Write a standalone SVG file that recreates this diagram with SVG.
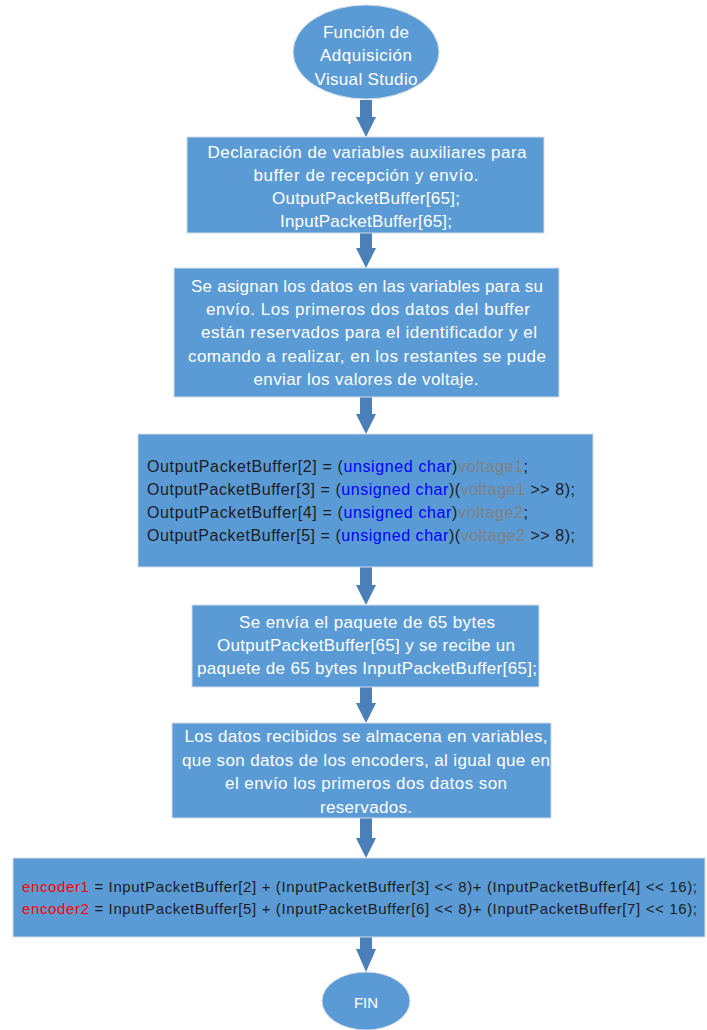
<svg xmlns="http://www.w3.org/2000/svg" width="707" height="1030" viewBox="0 0 707 1030">
<style>
.box{fill:#5B9BD5;stroke:#d3dde8;stroke-width:1}
.term{fill:#5B9BD5;stroke:#d3dde8;stroke-width:1}
.t{font-family:"Liberation Sans",Arial,sans-serif;font-size:17px;fill:#ffffff;text-anchor:middle}
.c{font-family:"Liberation Sans",Arial,sans-serif;font-size:16px;fill:#1c1c24}
.e{font-family:"Liberation Sans",Arial,sans-serif;font-size:15px;fill:#1c1c24}
.kw{fill:#0000FF}
.gr{fill:#808080}
.rd{fill:#FF0000}
.arrow{fill:#4a7fb8}
</style>
<rect width="707" height="1030" fill="#ffffff"/>
<g id="connectors">
<path class="arrow" d="M360,100 H372 V117 H376 L366,137 L356,117 H360 Z"/>
<path class="arrow" d="M360,233 H372 V248 H376 L366,268 L356,248 H360 Z"/>
<path class="arrow" d="M360,397 H372 V414 H376 L366,434 L356,414 H360 Z"/>
<path class="arrow" d="M360,567 H372 V585 H376 L366,605 L356,585 H360 Z"/>
<path class="arrow" d="M360,687 H372 V703 H376 L366,723 L356,703 H360 Z"/>
<path class="arrow" d="M360,818 H372 V838 H376 L366,858 L356,838 H360 Z"/>
<path class="arrow" d="M360,937 H372 V949 H376 L366,972 L356,949 H360 Z"/>
</g>
<g id="start">
<ellipse class="term" cx="366" cy="52" rx="73" ry="47"/>
<text class="t" x="366" y="38" textLength="86">Función de</text>
<text class="t" x="366" y="61" textLength="92">Adquisición</text>
<text class="t" x="366" y="85" textLength="103">Visual Studio</text>
</g>
<g id="declaracion">
<rect class="box" x="187" y="137" width="357" height="96"/>
<text class="t" x="367" y="158" textLength="319">Declaración de variables auxiliares para</text>
<text class="t" x="366" y="181" textLength="225">buffer de recepción y envío.</text>
<text class="t" x="366" y="204" textLength="188">OutputPacketBuffer[65];</text>
<text class="t" x="366" y="227" textLength="172">InputPacketBuffer[65];</text>
</g>
<g id="asignacion">
<rect class="box" x="174" y="268" width="385" height="129"/>
<text class="t" x="367" y="292" textLength="352">Se asignan los datos en las variables para su</text>
<text class="t" x="368" y="315" textLength="324">envío. Los primeros dos datos del buffer</text>
<text class="t" x="369" y="338" textLength="336">están reservados para el identificador y el</text>
<text class="t" x="367" y="362" textLength="358">comando a realizar, en los restantes se pude</text>
<text class="t" x="366" y="385" textLength="225">enviar los valores de voltaje.</text>
</g>
<g id="codigo-salida">
<rect class="box" x="138" y="434" width="455" height="133"/>
<text class="c" x="147" y="472" textLength="381">OutputPacketBuffer[2] = (<tspan class="kw">unsigned char</tspan>)<tspan class="gr">voltage1</tspan>;</text>
<text class="c" x="147" y="495" textLength="428">OutputPacketBuffer[3] = (<tspan class="kw">unsigned char</tspan>)(<tspan class="gr">voltage1</tspan> &gt;&gt; 8);</text>
<text class="c" x="147" y="518" textLength="381">OutputPacketBuffer[4] = (<tspan class="kw">unsigned char</tspan>)<tspan class="gr">voltage2</tspan>;</text>
<text class="c" x="147" y="541" textLength="428">OutputPacketBuffer[5] = (<tspan class="kw">unsigned char</tspan>)(<tspan class="gr">voltage2</tspan> &gt;&gt; 8);</text>
</g>
<g id="envio">
<rect class="box" x="192" y="605" width="347" height="82"/>
<text class="t" x="367" y="628" textLength="256">Se envía el paquete de 65 bytes</text>
<text class="t" x="366" y="651" textLength="298">OutputPacketBuffer[65] y se recibe un</text>
<text class="t" x="367" y="674" textLength="340">paquete de 65 bytes InputPacketBuffer[65];</text>
</g>
<g id="recepcion">
<rect class="box" x="172" y="723" width="379" height="95"/>
<text class="t" x="366" y="742" textLength="363">Los datos recibidos se almacena en variables,</text>
<text class="t" x="366" y="766" textLength="368">que son datos de los encoders, al igual que en</text>
<text class="t" x="366" y="789" textLength="282">el envío los primeros dos datos son</text>
<text class="t" x="366" y="813" textLength="92">reservados.</text>
</g>
<g id="codigo-encoders">
<rect class="box" x="13" y="858" width="692" height="79"/>
<text class="e" x="22" y="892" textLength="675"><tspan class="rd">encoder1</tspan> = InputPacketBuffer[2] + (InputPacketBuffer[3] &lt;&lt; 8)+ (InputPacketBuffer[4] &lt;&lt; 16);</text>
<text class="e" x="22" y="914" textLength="675"><tspan class="rd">encoder2</tspan> = InputPacketBuffer[5] + (InputPacketBuffer[6] &lt;&lt; 8)+ (InputPacketBuffer[7] &lt;&lt; 16);</text>
</g>
<g id="fin">
<ellipse class="term" cx="366" cy="1001" rx="44" ry="29"/>
<text class="t" x="366" y="1008" style="font-size:15px">FIN</text>
</g>
</svg>
